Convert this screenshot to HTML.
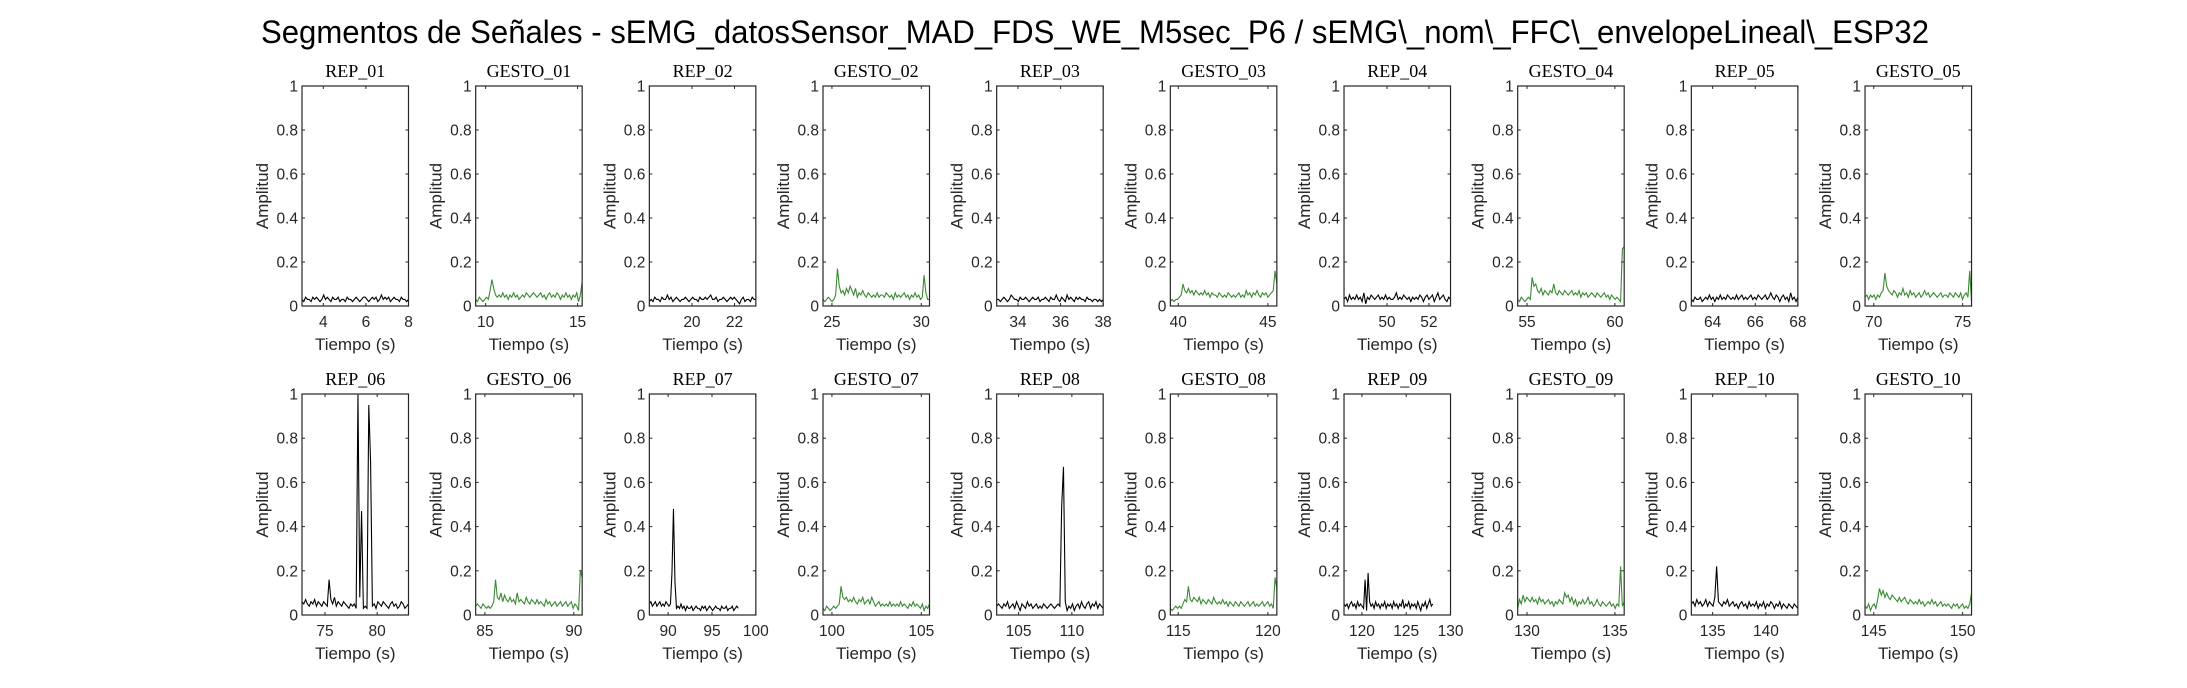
<!DOCTYPE html>
<html><head><meta charset="utf-8"><style>
html,body{margin:0;padding:0;background:#fff;}
svg{display:block;}
</style></head><body>
<svg id="fig" width="2187" height="688" viewBox="0 0 2187 688" xmlns="http://www.w3.org/2000/svg">
<rect width="2187" height="688" fill="#fff"/>
<text x="261" y="43" font-family="Liberation Sans, sans-serif" font-size="32" fill="#000" textLength="1668" lengthAdjust="spacingAndGlyphs">Segmentos de Señales - sEMG_datosSensor_MAD_FDS_WE_M5sec_P6 / sEMG\_nom\_FFC\_envelopeLineal\_ESP32</text>
</svg>
<script>
const panelTitles=["REP_01","GESTO_01","REP_02","GESTO_02","REP_03","GESTO_03","REP_04","GESTO_04","REP_05","GESTO_05",
"REP_06","GESTO_06","REP_07","GESTO_07","REP_08","GESTO_08","REP_09","GESTO_09","REP_10","GESTO_10"];
const xMin=[3,9.46,18,24.5,33,39.56,47.95,54.47,63,69.51,72.8,84.48,87.86,99.5,102.94,114.56,117.98,129.47,133,144.51];
const xMax=[8,15.25,23,30.46,38,45.5,53.03,60.53,68,75.5,83,90.47,100,105.46,112.94,120.5,130,135.53,143,150.5];
const dataStart=[3,9.46,18,24.5,33,39.56,47.95,54.47,63,69.51,72.8,84.48,87.86,99.5,102.94,114.56,117.98,129.47,133,144.51];
const dataEnd=[8,15.25,23,30.46,38,45.5,53.03,60.53,68,75.5,83,90.47,98,105.46,112.94,120.5,128,135.53,143,150.5];
const xTicks=[[4,6,8],[10,15],[20,22],[25,30],[34,36,38],[40,45],[50,52],[55,60],[64,66,68],[70,75],
[75,80],[85,90],[90,95,100],[100,105],[105,110],[115,120],[120,125,130],[130,135],[135,140],[145,150]];
const yTicks=[0,0.2,0.4,0.6,0.8,1];
const yTickLabels=["0","0.2","0.4","0.6","0.8","1"];
const rep01=[.03,.02,.04,.03,.03,.02,.04,.03,.04,.03,.02,.03,.05,.03,.04,.03,.02,.04,.03,.03,.04,.02,.03,.03,.02,.04,.03,.03,.02,.03,.04,.03,.02,.03,.04,.04,.03,.02,.03,.04,.03,.04,.02,.03,.05,.03,.04,.03,.04,.02,.03,.04,.03,.03,.02,.04,.03,.03,.02,.03];
const gesto01=[.03,.02,.04,.03,.02,.03,.04,.03,.07,.12,.08,.05,.04,.05,.04,.06,.04,.05,.03,.05,.04,.06,.04,.05,.03,.04,.05,.04,.06,.05,.04,.05,.06,.05,.04,.05,.06,.04,.05,.03,.05,.06,.04,.05,.04,.06,.05,.03,.05,.04,.06,.04,.05,.03,.05,.04,.06,.02,.05,.11];
const rep02=[.02,.03,.02,.04,.03,.03,.02,.04,.03,.03,.05,.03,.04,.02,.03,.04,.03,.02,.03,.03,.04,.03,.02,.03,.04,.03,.03,.02,.04,.03,.03,.04,.03,.04,.05,.03,.03,.04,.02,.03,.03,.04,.03,.02,.03,.04,.03,.04,.03,.02,.01,.03,.04,.02,.03,.03,.02,.04,.03,.03];
const gesto02=[.03,.02,.03,.04,.03,.02,.03,.05,.17,.09,.06,.07,.05,.08,.06,.09,.07,.05,.08,.04,.06,.05,.07,.05,.04,.06,.05,.04,.05,.04,.06,.04,.05,.05,.04,.06,.05,.04,.05,.03,.06,.04,.05,.04,.05,.06,.04,.05,.03,.05,.04,.06,.04,.05,.03,.04,.14,.06,.03,.03];
const rep03=[.03,.03,.02,.03,.04,.03,.02,.03,.05,.04,.03,.03,.02,.04,.03,.03,.04,.03,.02,.03,.04,.03,.03,.04,.02,.03,.03,.04,.03,.02,.04,.03,.03,.05,.03,.02,.04,.03,.02,.05,.03,.04,.03,.02,.04,.03,.04,.03,.03,.02,.04,.03,.03,.02,.03,.03,.02,.03,.02,.03];
const gesto03=[.02,.03,.02,.03,.03,.04,.05,.10,.07,.06,.08,.06,.07,.05,.07,.06,.05,.06,.05,.07,.05,.06,.04,.06,.05,.05,.04,.06,.05,.04,.05,.04,.06,.05,.04,.05,.04,.05,.06,.04,.05,.04,.07,.05,.06,.04,.06,.05,.07,.05,.04,.06,.05,.06,.04,.05,.06,.07,.16,.10];
const rep04=[.03,.04,.02,.05,.03,.04,.03,.05,.03,.04,.02,.06,.01,.04,.03,.05,.04,.03,.04,.05,.03,.04,.03,.05,.03,.04,.03,.03,.04,.06,.03,.04,.03,.05,.04,.03,.04,.02,.04,.03,.04,.03,.05,.04,.02,.04,.05,.03,.04,.05,.02,.04,.06,.03,.04,.05,.03,.02,.04,.03];
const gesto04=[.03,.02,.04,.03,.02,.03,.04,.03,.13,.09,.10,.07,.06,.08,.05,.07,.06,.05,.07,.06,.10,.06,.05,.07,.06,.05,.07,.06,.05,.06,.07,.05,.06,.05,.07,.04,.06,.05,.06,.04,.05,.06,.05,.04,.06,.05,.04,.05,.06,.04,.05,.03,.05,.04,.03,.04,.03,.02,.26,.27];
const rep05=[.03,.02,.04,.03,.03,.04,.02,.03,.04,.03,.05,.03,.04,.02,.04,.03,.05,.03,.04,.03,.05,.04,.03,.04,.03,.05,.03,.04,.05,.03,.04,.03,.04,.05,.03,.04,.03,.05,.04,.03,.04,.05,.03,.04,.06,.04,.03,.05,.04,.02,.04,.05,.03,.04,.02,.06,.03,.04,.02,.04];
const gesto05=[.04,.05,.03,.05,.04,.05,.03,.05,.04,.06,.07,.15,.09,.07,.06,.05,.07,.06,.04,.06,.05,.08,.05,.06,.04,.07,.05,.06,.04,.05,.06,.04,.05,.07,.05,.06,.04,.05,.06,.05,.04,.05,.06,.04,.05,.05,.04,.06,.05,.04,.06,.05,.04,.06,.03,.05,.06,.04,.16,.02];
const rep06=[.06,.05,.07,.05,.04,.06,.05,.07,.04,.06,.05,.04,.06,.05,.04,.16,.07,.05,.08,.04,.06,.05,.04,.06,.05,.04,.03,.05,.04,.05,.03,1.0,.08,.47,.03,.04,.03,.95,.69,.04,.05,.03,.06,.05,.04,.06,.05,.04,.03,.05,.06,.04,.05,.03,.04,.06,.05,.03,.04,.05];
const gesto06=[.04,.05,.04,.03,.05,.04,.03,.04,.03,.04,.06,.16,.08,.07,.10,.06,.09,.07,.06,.08,.06,.07,.05,.10,.06,.07,.06,.05,.08,.06,.05,.07,.06,.05,.07,.05,.06,.05,.04,.07,.05,.06,.04,.05,.06,.04,.05,.06,.04,.05,.06,.04,.05,.06,.03,.05,.04,.02,.20,.17];
const rep07=[.05,.06,.04,.05,.06,.04,.05,.06,.04,.05,.04,.06,.05,.04,.05,.19,.48,.15,.03,.04,.03,.05,.03,.04,.02,.04,.03,.03,.04,.02,.03,.04,.03,.03,.02,.04,.03,.04,.02,.03,.04,.03,.02,.03,.04,.03,.03,.02,.04,.03,.03,.04,.02,.03,.03,.04,.02,.03,.04,.03];
const gesto07=[.03,.02,.04,.03,.02,.03,.04,.03,.04,.05,.13,.08,.07,.08,.06,.07,.06,.08,.06,.05,.07,.06,.08,.05,.06,.07,.05,.08,.06,.04,.05,.06,.04,.05,.04,.05,.04,.06,.04,.05,.04,.05,.04,.06,.04,.05,.04,.03,.05,.04,.06,.04,.05,.04,.03,.05,.02,.04,.03,.05];
const rep08=[.04,.05,.04,.03,.05,.04,.06,.03,.04,.05,.03,.06,.04,.02,.05,.04,.03,.06,.04,.05,.03,.04,.05,.03,.04,.03,.05,.04,.03,.04,.05,.04,.03,.04,.05,.04,.49,.67,.06,.02,.04,.03,.05,.02,.04,.05,.03,.06,.04,.03,.05,.06,.03,.05,.04,.06,.03,.05,.04,.03];
const gesto08=[.03,.02,.03,.04,.03,.04,.03,.05,.07,.06,.13,.07,.06,.08,.07,.06,.08,.05,.07,.06,.05,.07,.06,.05,.08,.06,.05,.06,.05,.07,.05,.06,.04,.06,.05,.04,.06,.05,.04,.06,.05,.04,.05,.06,.04,.05,.06,.04,.05,.04,.05,.06,.04,.05,.06,.04,.05,.03,.17,.12];
const rep09=[.05,.04,.05,.03,.05,.06,.04,.05,.03,.06,.04,.05,.04,.03,.16,.02,.19,.06,.04,.05,.03,.06,.04,.05,.03,.05,.04,.06,.03,.05,.04,.05,.03,.06,.04,.05,.03,.05,.04,.07,.03,.05,.04,.06,.03,.05,.04,.05,.03,.06,.04,.02,.05,.04,.06,.03,.05,.07,.04,.05];
const gesto09=[.03,.07,.05,.09,.06,.08,.07,.06,.08,.06,.07,.05,.08,.06,.07,.05,.06,.07,.05,.06,.04,.06,.05,.07,.06,.05,.10,.08,.09,.06,.08,.05,.07,.04,.06,.05,.07,.05,.06,.08,.05,.06,.04,.05,.07,.05,.04,.06,.05,.04,.05,.06,.04,.05,.03,.05,.04,.22,.04,.06];
const rep10=[.05,.06,.04,.07,.05,.06,.04,.05,.07,.04,.06,.05,.04,.08,.22,.06,.05,.04,.06,.05,.07,.04,.05,.06,.04,.05,.03,.05,.06,.04,.05,.03,.06,.04,.05,.04,.06,.03,.05,.04,.06,.03,.05,.04,.06,.05,.03,.05,.04,.06,.03,.05,.04,.03,.05,.04,.03,.05,.04,.03];
const gesto10=[.04,.03,.05,.02,.04,.05,.03,.07,.12,.09,.11,.08,.10,.08,.07,.09,.08,.07,.06,.08,.06,.07,.08,.06,.05,.07,.06,.05,.06,.05,.07,.05,.06,.04,.05,.06,.05,.07,.05,.06,.04,.05,.06,.04,.05,.04,.05,.04,.03,.05,.04,.05,.03,.04,.05,.03,.04,.03,.05,.10];
const seriesValues=[rep01,gesto01,rep02,gesto02,rep03,gesto03,rep04,gesto04,rep05,gesto05,rep06,gesto06,rep07,gesto07,rep08,gesto08,rep09,gesto09,rep10,gesto10];

const NS="http://www.w3.org/2000/svg";
const svg=document.getElementById('fig');
function mk(tag,attrs,parent){const e=document.createElementNS(NS,tag);for(const k in attrs)e.setAttribute(k,attrs[k]);(parent||svg).appendChild(e);return e;}
const AX_W=106.5, PITCH=173.67, LEFT0=302;
const rowTop=[86,394], rowBot=[306,615];
const SANS="Liberation Sans, sans-serif", SERIF="Liberation Serif, serif";
for(let p=0;p<20;p++){
  const row=Math.floor(p/10), col=p%10;
  const L=LEFT0+PITCH*col, R=L+AX_W, T=rowTop[row], B=rowBot[row];
  const xs=v=>L+(v-xMin[p])/(xMax[p]-xMin[p])*AX_W;
  const ys=v=>B-v*(B-T);
  const g=mk('g',{});
  
  
  // data line
  const vals=seriesValues[p];
  const n=vals.length;
  let d='';
  for(let i=0;i<n;i++){const t=dataStart[p]+i*(dataEnd[p]-dataStart[p])/(n-1);d+=(i?'L':'M')+xs(t).toFixed(2)+' '+ys(vals[i]).toFixed(2);}
  const cp=mk('clipPath',{id:'c'+p},g);mk('rect',{x:L,y:T,width:AX_W,height:B-T},cp);
  const line=mk('path',{d:d,fill:'none',stroke:(p%2===0)?'#000':'#3a8a33','stroke-width':1.1,'clip-path':'url(#c'+p+')'},g);
  
  
  // box
  const box=mk('rect',{x:L,y:T,width:AX_W,height:B-T,fill:'none',stroke:'#262626','stroke-width':1.2},g);
  
  
  // y ticks
  yTicks.forEach((v,k)=>{
    const y=ys(v);
    mk('line',{x1:L,x2:L+3,y1:y,y2:y,stroke:'#262626','stroke-width':1},g);
    mk('line',{x1:R,x2:R-3,y1:y,y2:y,stroke:'#262626','stroke-width':1},g);
    const t=mk('text',{x:L-4,y:y+5.5,'text-anchor':'end','font-family':SANS,'font-size':15.5,fill:'#262626'},g);
    t.textContent=yTickLabels[k];
    
    
  });
  xTicks[p].forEach(v=>{
    const x=xs(v);
    mk('line',{x1:x,x2:x,y1:B,y2:B-3,stroke:'#262626','stroke-width':1},g);
    mk('line',{x1:x,x2:x,y1:T,y2:T+3,stroke:'#262626','stroke-width':1},g);
    const t=mk('text',{x:x,y:B+21,'text-anchor':'middle','font-family':SANS,'font-size':15.5,fill:'#262626'},g);
    t.textContent=String(v);
    
    
  });
  const xl=mk('text',{x:L+AX_W/2,y:B+44,'text-anchor':'middle','font-family':SANS,'font-size':17,fill:'#262626'},g);
  xl.textContent='Tiempo (s)';
  
  
  const cy=(T+B)/2;
  const yl=mk('text',{x:L-34,y:cy,'text-anchor':'middle','font-family':SANS,'font-size':17,fill:'#262626',transform:'rotate(-90 '+(L-34)+' '+cy+')'},g);
  yl.textContent='Amplitud';
  
  
  const tt=mk('text',{x:L+AX_W/2,y:T-9,'text-anchor':'middle','font-family':SERIF,'font-size':18,fill:'#000'},g);
  tt.textContent=panelTitles[p];
  
  
}
</script>
</body></html>
